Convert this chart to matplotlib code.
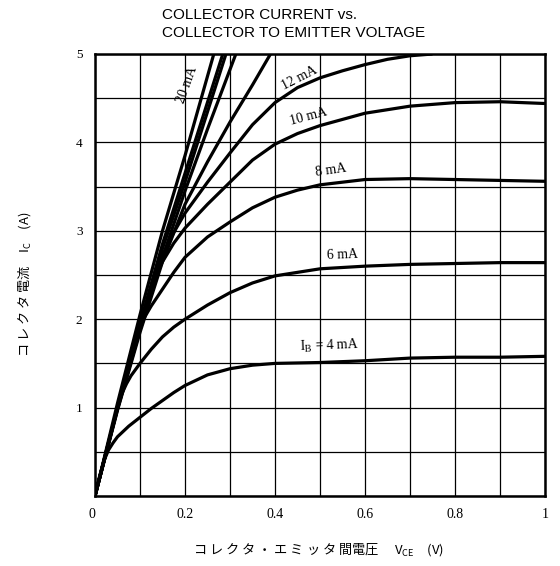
import matplotlib
matplotlib.use('Agg')
import matplotlib.pyplot as plt
import numpy as np

plt.rcParams['mathtext.fontset'] = 'stix'

# collector-emitter voltage (V) / collector current (A)
v_4 = [0, 0.01, 0.02, 0.03, 0.04, 0.05, 0.075, 0.1, 0.125, 0.15, 0.175, 0.2, 0.25, 0.3,
       0.35, 0.4, 0.5, 0.6, 0.7, 0.8, 0.9, 1.0]
i_4 = [0, 0.22, 0.4, 0.52, 0.6, 0.67, 0.79, 0.89, 0.99, 1.08, 1.17, 1.25, 1.37, 1.44,
       1.48, 1.5, 1.51, 1.53, 1.56, 1.57, 1.57, 1.58]

v_6 = [0, 0.05, 0.06, 0.07, 0.08, 0.1, 0.125, 0.15, 0.175, 0.2, 0.25, 0.3, 0.35, 0.4,
       0.5, 0.6, 0.7, 0.8, 0.9, 1.0]
i_6 = [0, 1.0, 1.16, 1.27, 1.36, 1.5, 1.66, 1.8, 1.91, 2.0, 2.16, 2.3, 2.41, 2.49,
       2.57, 2.6, 2.62, 2.63, 2.64, 2.64]

v_8 = [0, 0.05, 0.1, 0.11, 0.125, 0.15, 0.175, 0.2, 0.25, 0.3, 0.35, 0.4, 0.45, 0.5,
       0.6, 0.7, 0.8, 0.9, 1.0]
i_8 = [0, 1.0, 1.9, 2.02, 2.15, 2.34, 2.53, 2.7, 2.93, 3.1, 3.26, 3.38, 3.46, 3.52,
       3.58, 3.59, 3.58, 3.57, 3.56]

v_10 = [0, 0.05, 0.1, 0.13, 0.15, 0.175, 0.2, 0.25, 0.3, 0.35, 0.4, 0.45, 0.5, 0.6,
        0.7, 0.8, 0.9, 1.0]
i_10 = [0, 1.0, 1.9, 2.42, 2.65, 2.86, 3.03, 3.3, 3.55, 3.8, 3.98, 4.1, 4.19, 4.33,
        4.41, 4.45, 4.46, 4.44]

v_12 = [0, 0.05, 0.1, 0.15, 0.175, 0.2, 0.25, 0.3, 0.35, 0.4, 0.45, 0.5, 0.55, 0.6,
        0.65, 0.7, 0.75]
i_12 = [0, 1.0, 1.9, 2.72, 2.98, 3.2, 3.55, 3.88, 4.2, 4.45, 4.62, 4.73, 4.81, 4.88,
        4.94, 4.98, 5.0]

# steep curves (14 mA ... 20 mA)
v_14 = [0, 0.05, 0.1, 0.15, 0.2, 0.25, 0.3, 0.35, 0.39]
i_14 = [0, 0.97, 1.85, 2.65, 3.3, 3.78, 4.23, 4.65, 5.0]
v_16 = [0, 0.05, 0.1, 0.15, 0.2, 0.25, 0.313]
i_16 = [0, 0.98, 1.88, 2.7, 3.45, 4.15, 5.0]
v_18 = [0, 0.05, 0.1, 0.15, 0.2, 0.291]
i_18 = [0, 1.0, 1.9, 2.8, 3.55, 5.0]
v_19 = [0, 0.05, 0.1, 0.15, 0.2, 0.284]
i_19 = [0, 1.0, 1.95, 2.85, 3.65, 5.0]
v_20 = [0, 0.05, 0.1, 0.15, 0.2, 0.264]
i_20 = [0, 1.05, 2.05, 3.0, 3.85, 5.0]

curves = [(v_4, i_4), (v_6, i_6), (v_8, i_8), (v_10, i_10), (v_12, i_12),
          (v_14, i_14), (v_16, i_16), (v_18, i_18), (v_19, i_19), (v_20, i_20)]

x_ticks = [0, 0.2, 0.4, 0.6, 0.8, 1.0]
x_tick_labels = ['0', '0.2', '0.4', '0.6', '0.8', '1']
y_ticks = [0, 1, 2, 3, 4, 5]
y_tick_labels = ['', '1', '2', '3', '4', '5']

# curve labels: text, x, y, angle
curve_labels = [
    ('$\\mathregular{I_B}$ = 4 mA', 0.52, 1.7, 2),
    ('6 mA', 0.55, 2.73, 2),
    ('8 mA', 0.525, 3.68, 8),
    ('10 mA', 0.475, 4.29, 15),
    ('12 mA', 0.455, 4.73, 27),
    ('20 mA', 0.205, 4.65, 70),
]

serif = 'Liberation Serif'
jp = ['Noto Sans CJK JP', 'DejaVu Sans']

fig = plt.figure(figsize=(5.6, 5.66), dpi=100)
ax = fig.add_axes([95 / 560, 70 / 566, 450 / 560, 442 / 566])

for v, i in curves:
    ax.plot(v, i, color='black', lw=2.3, solid_capstyle='butt', solid_joinstyle='round')

for txt, x, y, ang in curve_labels:
    ax.text(x, y, txt, family=serif, fontsize=10, rotation=ang,
            ha='center', va='center', rotation_mode='anchor')

ax.set_xlim(0, 1)
ax.set_ylim(0, 5)
ax.set_xticks(np.arange(0, 1.01, 0.1), minor=True)
ax.set_yticks(np.arange(0, 5.01, 0.5), minor=True)
ax.set_xticks(x_ticks)
ax.set_xticklabels(x_tick_labels, family=serif, fontsize=10)
ax.set_yticks(y_ticks)
ax.set_yticklabels(y_tick_labels, family=serif, fontsize=9.5)
ax.xaxis.get_ticklabels()[0].set_horizontalalignment('right')
ax.tick_params(which='both', length=0, pad=9)
ax.grid(which='both', color='black', lw=0.9)
for s in ax.spines.values():
    s.set_linewidth(1.8)

fig.text(162 / 560, 1 - 15 / 566, 'COLLECTOR CURRENT vs.', family='Liberation Sans',
         fontsize=11, ha='left', va='center')
fig.text(162 / 560, 1 - 33 / 566, 'COLLECTOR TO EMITTER VOLTAGE', family='Liberation Sans',
         fontsize=11, ha='left', va='center')

fig.text(25 / 560, 1 - 284 / 566, 'コ レ ク タ 電流　$\\mathregular{I_C}$　(A)', family=jp,
         fontsize=9.5, rotation=90, ha='center', va='center')
fig.text(318 / 560, 1 - 550 / 566,
         'コ レ ク タ ・ エ ミ ッ タ 間電圧　 $\\mathregular{V_{CE}}$　(V)',
         family=jp, fontsize=9.5, ha='center', va='center')

fig.savefig('out.png', dpi=100)
